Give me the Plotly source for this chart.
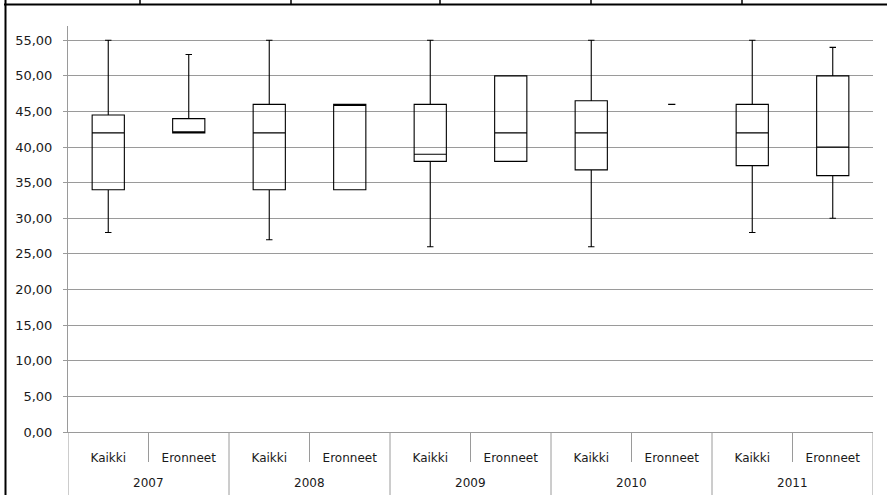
import plotly.graph_objects as go

years = ["2007", "2007", "2008", "2008", "2009", "2009", "2010", "2010", "2011", "2011"]
groups = ["Kaikki", "Eronneet"] * 5
lower = [28, 42, 27, 34, 26, 38, 26, 46, 28, 30]
q1 = [34, 42, 34, 34, 38, 38, 36.8, 46, 37.4, 36]
median = [42, 42, 42, 46, 39, 42, 42, 46, 42, 40]
q3 = [44.5, 44, 46, 46, 46, 50, 46.5, 46, 46, 50]
upper = [55, 53, 55, 46, 55, 50, 55, 46, 55, 54]
ytick_vals = [0, 5, 10, 15, 20, 25, 30, 35, 40, 45, 50, 55]

W, H = 887, 495
L, R, T, B = 68, 14, 26, 63
pw, ph = W - L - R, H - T - B

def px(x):
    return (x - L) / pw

def py(y):
    return (H - B - y) / ph

cats = [f"{y} {g}" for y, g in zip(years, groups)]
year_list = sorted(set(years))

fig = go.Figure()
normal = [i for i in range(len(cats)) if q3[i] > q1[i] or upper[i] > lower[i]]
flat = [i for i in range(len(cats)) if i not in normal]
for idx, w in ((normal, 0.4), (flat, 0.09)):
    if not idx:
        continue
    fig.add_trace(go.Box(
        x=[cats[i] for i in idx],
        q1=[q1[i] for i in idx], median=[median[i] for i in idx],
        q3=[q3[i] for i in idx],
        lowerfence=[lower[i] for i in idx], upperfence=[upper[i] for i in idx],
        width=w,
        whiskerwidth=0.2,
        fillcolor="rgba(0,0,0,0)",
        line=dict(color="black", width=1.1),
        boxpoints=False,
        showlegend=False,
        hoverinfo="skip",
    ))

grid = "#9a9a9a"
txt = "#1a1a1a"
fig.update_layout(
    width=W, height=H,
    margin=dict(l=L, r=R, t=T, b=B),
    paper_bgcolor="white", plot_bgcolor="white",
    separators=",.",
    boxmode="overlay",
    font=dict(family="DejaVu Sans, sans-serif", size=12, color=txt),
    xaxis=dict(
        type="category",
        categoryorder="array", categoryarray=cats,
        range=[-0.5, len(cats) - 0.5],
        tickvals=cats, ticktext=groups,
        showgrid=False,
        showline=True, linecolor=grid, linewidth=1,
        ticks="", ticklabelstandoff=15,
        tickfont=dict(family="DejaVu Sans, sans-serif", size=12, color=txt),
    ),
    yaxis=dict(
        range=[0, 57],
        tickvals=ytick_vals,
        tickformat=".2f",
        showgrid=True, gridcolor=grid, gridwidth=1,
        showline=True, linecolor=grid, linewidth=1,
        ticks="outside", ticklen=4, tickcolor=grid,
        ticklabelstandoff=8,
        zeroline=False,
        tickfont=dict(family="DejaVu Sans, sans-serif", size=13, color=txt),
    ),
)

shapes = []
annotations = []
for i in range(len(cats) + 1):
    outer = (i % 2 == 0)
    shapes.append(dict(type="line", xref="x", yref="paper",
                       x0=i - 0.5, x1=i - 0.5,
                       y0=0, y1=py(495 if outer else 462),
                       line=dict(color=grid, width=1)))
for k, yr in enumerate(year_list):
    annotations.append(dict(text=yr, xref="x", yref="paper",
                            x=2 * k + 0.5, y=py(483), showarrow=False,
                            font=dict(family="DejaVu Sans, sans-serif", size=12, color=txt),
                            xanchor="center", yanchor="middle"))
shapes.append(dict(type="line", xref="paper", yref="paper",
                   x0=px(4), x1=px(887), y0=py(4.5), y1=py(4.5),
                   line=dict(color="black", width=2)))
shapes.append(dict(type="line", xref="paper", yref="paper",
                   x0=px(5.5), x1=px(5.5), y0=py(0), y1=py(495),
                   line=dict(color="black", width=2)))
for xv in [140, 291, 440, 591, 742]:
    shapes.append(dict(type="line", xref="paper", yref="paper",
                       x0=px(xv), x1=px(xv), y0=py(0), y1=py(4.5),
                       line=dict(color="black", width=1.5)))
fig.update_layout(shapes=shapes, annotations=annotations)

fig.write_html(
    "out.html",
    config={"displayModeBar": False},
    post_script="document.body.style.margin='0';document.body.style.padding='0';",
)
